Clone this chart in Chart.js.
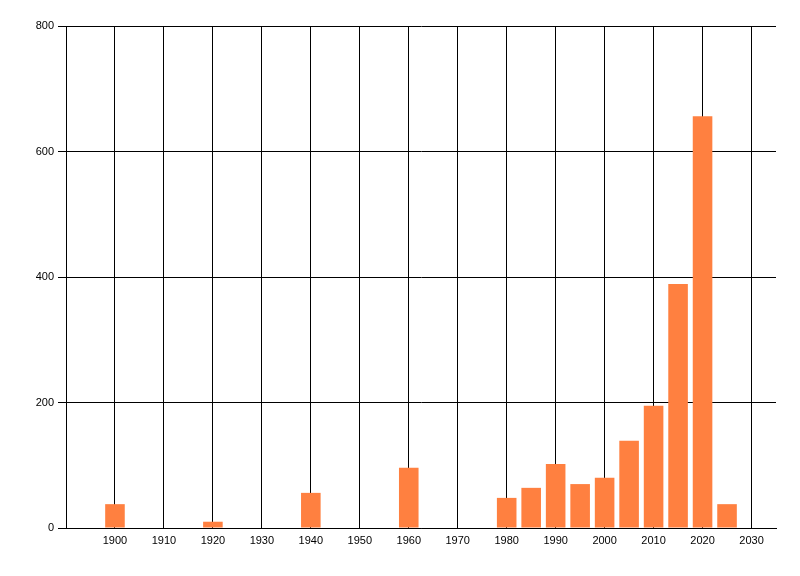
<!DOCTYPE html>
<html>
<head>
<meta charset="utf-8">
<script src="https://cdn.jsdelivr.net/npm/chart.js@4/dist/chart.umd.min.js"></script>
<style>
  html, body { margin: 0; padding: 0; background: #fff; }
  canvas { display: block; }
</style>
</head>
<body>
<canvas id="yearChart" width="800" height="576"></canvas>
<script>
  // years and counts (5-year bins)
  const years = [1900, 1920, 1940, 1960, 1980, 1985, 1990, 1995, 2000, 2005, 2010, 2015, 2020, 2025];
  const counts = [38, 10, 56, 96, 48, 64, 102, 70, 80, 139, 195, 389, 656, 38];
  const xTicks = [1900, 1910, 1920, 1930, 1940, 1950, 1960, 1970, 1980, 1990, 2000, 2010, 2020, 2030];
  const yTicks = [0, 200, 400, 600, 800];

  const points = years.map((y, i) => ({ x: y, y: counts[i] }));

  const ctx = document.getElementById('yearChart').getContext('2d');

  new Chart(ctx, {
    type: 'bar',
    data: {
      datasets: [{
        label: 'Count',
        data: points,
        backgroundColor: 'rgb(255,128,64)',
        borderWidth: 0,
        barPercentage: 0.8,
        categoryPercentage: 1
      }]
    },
    options: {
      responsive: false,
      animation: false,
      devicePixelRatio: 1,
      plugins: {
        legend: { display: false },
        tooltip: { enabled: false }
      },
      layout: {
        padding: { top: 26, right: 24, left: 0, bottom: 0 }
      },
      scales: {
        x: {
          type: 'linear',
          min: 1890,
          max: 2035,
          offset: false,
          afterBuildTicks: function(scale) {
            scale.ticks = xTicks.map(v => ({ value: v }));
          },
          afterFit: function(scale) {
            scale.height = 48;
          },
          ticks: {
            color: '#000',
            font: { family: 'Liberation Sans', size: 11 },
            padding: 6,
            maxRotation: 0,
            autoSkip: false,
            callback: v => String(v)
          },
          grid: {
            offset: false,
            color: '#000',
            lineWidth: 1,
            drawTicks: false
          },
          border: { color: '#000', width: 1 }
        },
        y: {
          min: 0,
          max: 800,
          afterBuildTicks: function(scale) {
            scale.ticks = yTicks.map(v => ({ value: v }));
          },
          afterFit: function(scale) {
            scale.width = 66;
          },
          ticks: {
            color: '#000',
            font: { family: 'Liberation Sans', size: 11 },
            padding: 4
          },
          grid: {
            color: '#000',
            lineWidth: 1,
            tickLength: 8,
            tickColor: '#000'
          },
          border: { color: '#000', width: 1 }
        }
      }
    }
  });
</script>
</body>
</html>
